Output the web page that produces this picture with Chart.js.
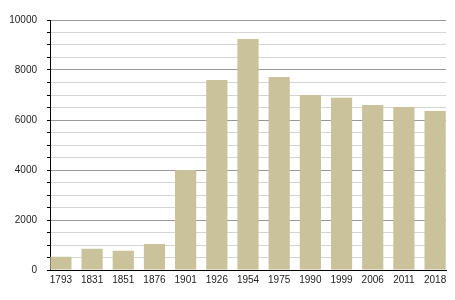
<!DOCTYPE html>
<html>
<head>
<meta charset="utf-8">
<script src="https://cdn.jsdelivr.net/npm/chart.js@4/dist/chart.umd.min.js"></script>
<style>
  html, body { margin: 0; padding: 0; background: #fff; }
  #wrap { width: 455px; height: 300px; }
</style>
</head>
<body>
<div id="wrap"><canvas id="chart"></canvas></div>
<script>
// population by census year
var years = ['1793', '1831', '1851', '1876', '1901', '1926', '1954', '1975', '1990', '1999', '2006', '2011', '2018'];
var population = [530, 850, 770, 1040, 4000, 7600, 9240, 7720, 7000, 6890, 6600, 6520, 6360];
var yMax = 10000;
var yStep = 500;
var labelStep = 2000;

var barColor = '#c9c29b';
var points = [];
for (var i = 0; i < years.length; i++) {
  points.push({ x: i, y: population[i] });
}

var ctx = document.getElementById('chart').getContext('2d');

var myChart = new Chart(ctx, {
  type: 'bar',
  data: {
    datasets: [{
      data: points,
      backgroundColor: barColor,
      borderWidth: 0,
      barPercentage: 0.68,
      categoryPercentage: 1
    }]
  },
  options: {
    responsive: true,
    maintainAspectRatio: false,
    animation: false,
    layout: { padding: { top: 20, right: 9, left: 0, bottom: 0 } },
    plugins: { legend: { display: false }, tooltip: { enabled: false } },
    scales: {
      x: {
        type: 'linear',
        min: -0.35,
        max: years.length - 1 + 0.35,
        offset: false,
        grid: { display: false, drawTicks: false },
        border: { color: '#000', width: 1 },
        afterBuildTicks: function(scale) {
          scale.ticks = years.map(function(y, i) { return { value: i }; });
        },
        ticks: {
          color: '#222',
          font: { family: 'Liberation Sans', size: 10 },
          padding: 4,
          maxRotation: 0,
          autoSkip: false,
          callback: function(v) { return years[v]; }
        },
        afterFit: function(scale) { scale.height = 30; }
      },
      y: {
        min: 0,
        max: yMax,
        border: { color: '#000', width: 1 },
        grid: {
          color: function(c) {
            return c.tick && c.tick.value % labelStep === 0 ? '#999' : '#d4d4d4';
          },
          tickColor: '#000',
          tickLength: 3
        },
        ticks: {
          stepSize: yStep,
          autoSkip: false,
          color: '#222',
          padding: 10,
          font: { family: 'Liberation Sans', size: 10 },
          callback: function(v) { return v % labelStep === 0 ? v : ''; }
        },
        afterFit: function(scale) { scale.width = 50; }
      }
    }
  }
});
</script>
</body>
</html>
